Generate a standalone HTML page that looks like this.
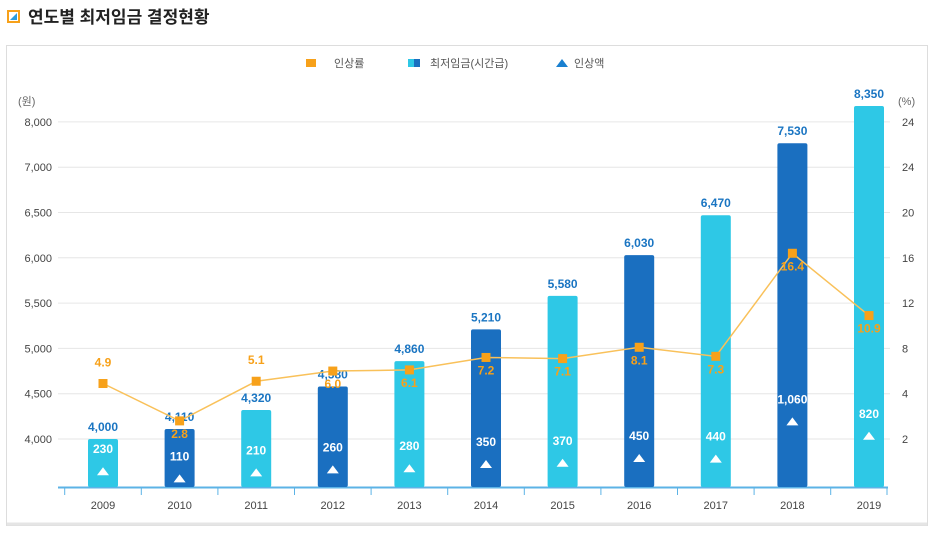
<!DOCTYPE html>
<html><head><meta charset="utf-8"><style>
body{margin:0;background:#fff;width:934px;height:530px;overflow:hidden;font-family:"Liberation Sans","Noto Sans CJK KR",sans-serif}
</style></head><body>
<svg width="934" height="530" xmlns="http://www.w3.org/2000/svg" font-family="Liberation Sans, Noto Sans CJK KR, sans-serif">
<g>
<rect x="7" y="10" width="13" height="13" fill="#f7a11a"/><rect x="9" y="12" width="9" height="9" fill="#fff"/><path d="M10 20 L17 13 L17 20 Z" fill="#2a9de0"/>
<text x="28" y="23" font-size="17" font-weight="bold" fill="#222">연도별 최저임금 결정현황</text></g>
<rect x="6.5" y="45.5" width="921" height="480" fill="#fff" stroke="#ddd"/>
<line x1="7" y1="524" x2="927" y2="524" stroke="#e5e5e5" stroke-width="3"/>
<g font-size="11" fill="#555">
<rect x="306" y="59" width="10" height="8" fill="#f7a11a"/><text x="334" y="67">인상률</text>
<rect x="408" y="59" width="6" height="8" fill="#2ec8e6"/><rect x="414" y="59" width="6" height="8" fill="#1a6fc0"/><text x="430" y="67">최저임금(시간급)</text>
<path d="M556 67 L562 59 L568 67Z" fill="#1a80d0"/><text x="574" y="67">인상액</text></g>
<g id="axes"></g><g id="bars"></g><g id="line"></g>
</svg>
<script>
const years=["2009","2010","2011","2012","2013","2014","2015","2016","2017","2018","2019"];
const wages=[4000,4110,4320,4580,4860,5210,5580,6030,6470,7530,8350];
const raises=[230,110,210,260,280,350,370,450,440,1060,820];
const rates=[4.9,2.8,5.1,6.0,6.1,7.2,7.1,8.1,7.3,16.4,10.9];
const leftTickVals=[4000,4500,5000,5500,6000,6500,7000,8000];
const leftTickLabels=["4,000","4,500","5,000","5,500","6,000","6,500","7,000","8,000"];
const rightTickVals=[2,4,8,12,16,20,24,24];
const rightTickLabels=["2","4","8","12","16","20","24","24"];
const NS="http://www.w3.org/2000/svg";
function el(t,a,p,txt){const e=document.createElementNS(NS,t);for(const k in a)e.setAttribute(k,a[k]);if(txt!=null)e.textContent=txt;document.getElementById(p).appendChild(e);return e;}
const y0=439,step=45.3;
function tickY(i){return y0-i*step;}
function pw(v,vals){ // piecewise-linear over tick values
 if(v<=vals[0])return y0-(v-vals[0])/(vals[1]-vals[0])*step;
 for(let i=0;i<vals.length-1;i++){if(v<=vals[i+1]&&vals[i+1]>vals[i])return tickY(i)-(v-vals[i])/(vals[i+1]-vals[i])*step;}
 const n=vals.length-1;return tickY(n)-(v-vals[n])/(vals[n]-vals[n-1])*step;}
function yL(v){return pw(v,leftTickVals);}
function yR(v){const vals=rightTickVals.slice(0,7);return pw(v,vals);}
function xC(i){return 103+i*76.6;}
function yT(a){return 484-a*0.06;}
leftTickVals.forEach((v,i)=>{const y=tickY(i);
 let l=el('line',{x1:58,x2:890,y1:y,y2:y,stroke:'#e6e6e6'},'axes');
 
 let t=el('text',{x:52,y:y+4,'font-size':11,fill:'#444','text-anchor':'end'},'axes',leftTickLabels[i]);
 
 let r=el('text',{x:902,y:y+4,'font-size':11,fill:'#444'},'axes',rightTickLabels[i]);
 });
let u1=el('text',{x:18,y:105,'font-size':11,fill:'#666'},'axes','(원)');
let u2=el('text',{x:898,y:105,'font-size':11,fill:'#666'},'axes','(%)');
years.forEach((yr,i)=>{const c=xC(i),dark=i%2==1,top=yL(wages[i]);
 let b=el('rect',{x:c-15,y:top,width:30,height:487-top,rx:2,fill:dark?'#1a6fc0':'#2ec8e6'},'bars');
 
 let w=el('text',{x:c,y:top-8,'font-size':12,'font-weight':'bold',fill:'#1a75c2','text-anchor':'middle'},'bars',wages[i].toLocaleString('en-US'));
 
 const ty=yT(raises[i]);
 let tr=el('path',{d:`M${c-6} ${ty+5} L${c} ${ty-3} L${c+6} ${ty+5}Z`,fill:'#fff'},'bars');
 
 let rl=el('text',{x:c,y:ty-17,'font-size':12,'font-weight':'bold',fill:'#fff','text-anchor':'middle'},'bars',raises[i].toLocaleString('en-US'));
 
 let xl=el('text',{x:c,y:509,'font-size':11,fill:'#444','text-anchor':'middle'},'axes',yr);
 
 let tk=el('line',{x1:c-38.3,x2:c-38.3,y1:487,y2:495,stroke:'#5cb3e6'},'axes');
 });
let ax=el('line',{x1:58,x2:888,y1:487.5,y2:487.5,stroke:'#5cb3e6','stroke-width':2},'axes');

let tk2=el('line',{x1:887,x2:887,y1:487,y2:495,stroke:'#5cb3e6'},'axes');
const pts=rates.map((r,i)=>xC(i)+','+yR(r)).join(' ');
let pl=el('polyline',{points:pts,fill:'none',stroke:'#f9c15a','stroke-width':1.5},'line');

rates.forEach((r,i)=>{const x=xC(i),y=yR(r);
 let m=el('rect',{x:x-4.5,y:y-4.5,width:9,height:9,fill:'#f7a11a'},'line');
 
 const above=(i==0||i==2);
 let t=el('text',{x:x,y:above?y-17:y+17,'font-size':12,'font-weight':'bold',fill:'#f7a11a','text-anchor':'middle'},'line',r.toFixed(1));
 });
</script>
</body></html>
